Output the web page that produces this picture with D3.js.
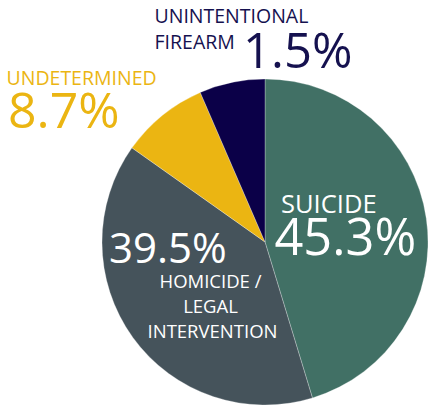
<!DOCTYPE html>
<html><head><meta charset="utf-8">
<script src="https://cdn.jsdelivr.net/npm/d3@7"></script>
<style>html,body{margin:0;padding:0;background:#fff;}svg{display:block;font-family:"Open Sans",sans-serif;}</style>
</head><body>
<script>
const categories = ["SUICIDE", "HOMICIDE / LEGAL INTERVENTION", "UNDETERMINED", "UNINTENTIONAL FIREARM"];
// slice sizes as drawn (percent of circle)
const sliceValues = [45.3, 39.5, 8.7, 6.5];
// percentages printed in the labels
const labelValues = ["45.3%", "39.5%", "8.7%", "1.5%"];
const colors = ["#417065", "#45535b", "#ebb512", "#0b0048"];

const W = 428, H = 407;
const cx = 265, cy = 242, R = 163;

const svg = d3.select("body").append("svg").attr("width", W).attr("height", H);
const pie = d3.pie().sort(null).value(d => d)(sliceValues);
const arc = d3.arc().innerRadius(0).outerRadius(R);
const g = svg.append("g").attr("transform", `translate(${cx},${cy})`);
g.selectAll("path").data(pie).join("path")
  .attr("d", arc)
  .attr("fill", (d, i) => colors[i])
  .attr("stroke", "#ffffff").attr("stroke-opacity", 0.45).attr("stroke-width", 0.6);

function txt(x, y, s, size, fill, anchor) {
  svg.append("text").attr("x", x).attr("y", y).attr("font-size", size)
    .attr("fill", fill).attr("text-anchor", anchor || "start").text(s);
}
// Unintentional
txt(154.5, 23, "UNINTENTIONAL", 19.5, "#15114f");
txt(154.5, 48.5, "FIREARM", 19.5, "#15114f");
txt(243, 68, labelValues[3], 49, "#15114f");
// Undetermined
txt(6.5, 85, "UNDETERMINED", 19.5, "#ebb512");
txt(8, 128, labelValues[2], 50, "#ebb512");
// Suicide
txt(281, 212.5, "SUICIDE", 25.5, "#ffffff");
txt(274.5, 255, labelValues[0], 50.5, "#ffffff");
// Homicide
txt(109, 263, labelValues[1], 42, "#ffffff");
txt(210.5, 288, "HOMICIDE /", 18.5, "#ffffff", "middle");
txt(210.5, 313, "LEGAL", 18.5, "#ffffff", "middle");
txt(212.5, 338, "INTERVENTION", 18.5, "#ffffff", "middle");
</script>
</body></html>
